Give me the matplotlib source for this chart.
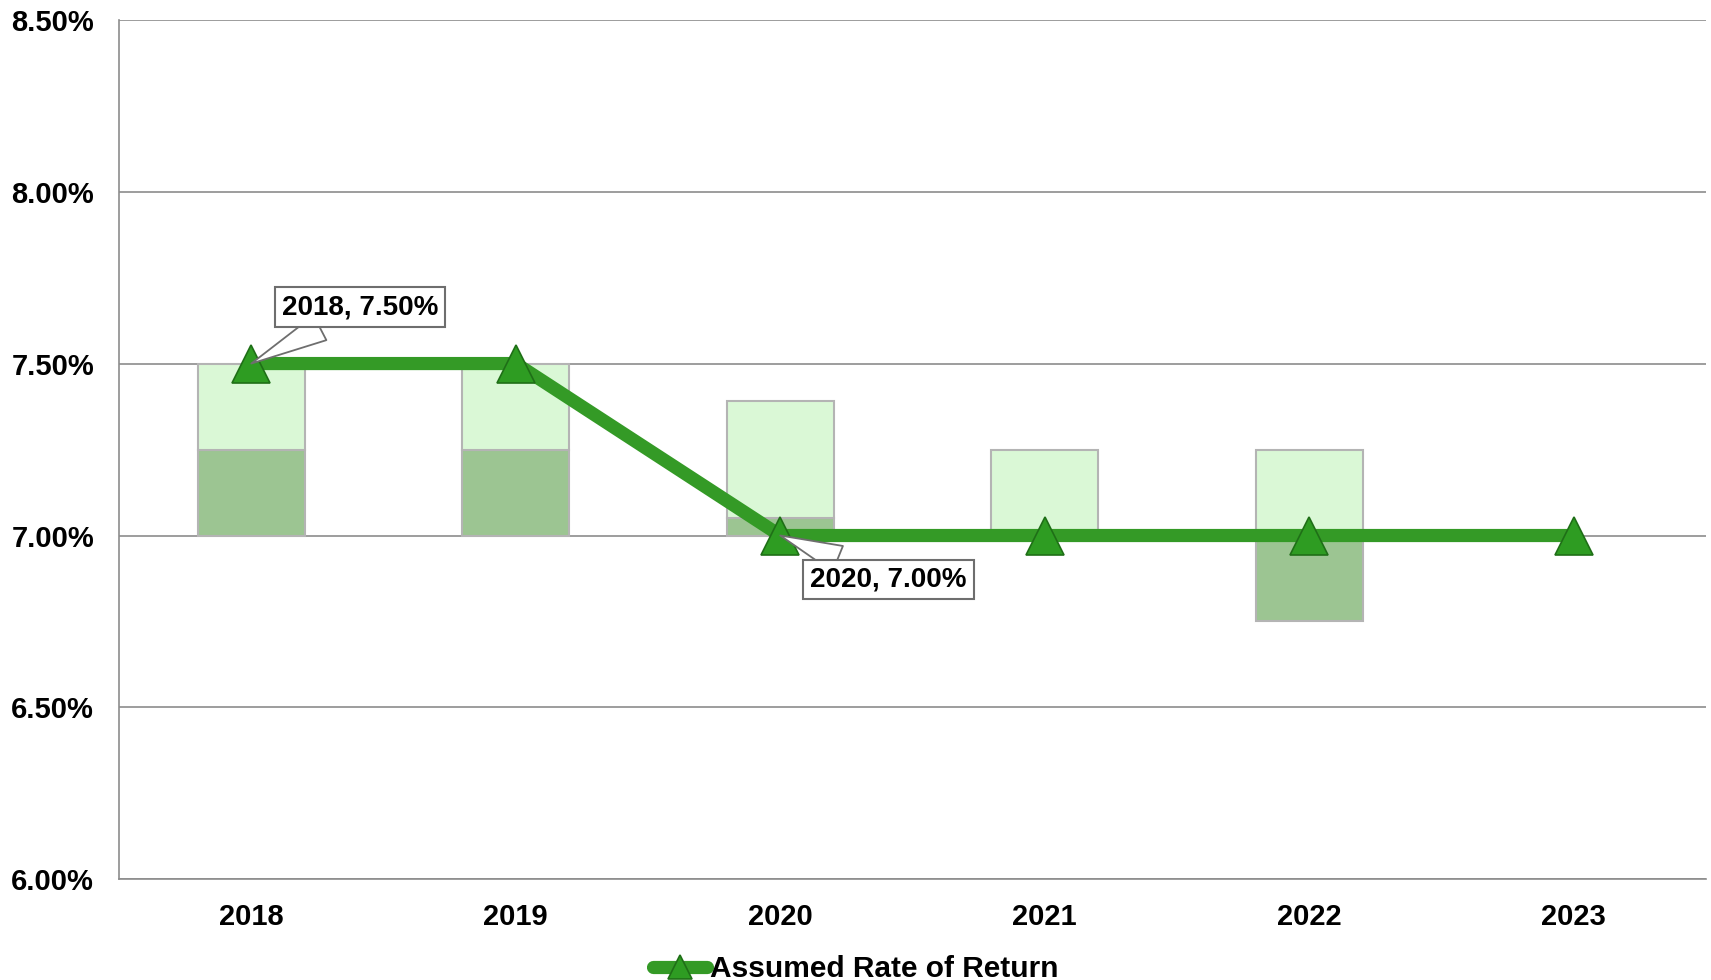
import matplotlib.pyplot as plt
from matplotlib.ticker import FuncFormatter

plt.rcParams["font.family"] = ["Liberation Sans", "DejaVu Sans"]
plt.rcParams["font.weight"] = "bold"

years = ["2018", "2019", "2020", "2021", "2022", "2023"]
assumed_rate = [7.50, 7.50, 7.00, 7.00, 7.00, 7.00]

# range bars: lower band (dark) from low to mid, upper band (light) from mid to high
range_low = [7.00, 7.00, 7.00, None, 6.75, None]
range_mid = [7.25, 7.25, 7.05, 7.00, 7.00, None]
range_high = [7.50, 7.50, 7.39, 7.25, 7.25, None]

line_color = "#349A26"
light_fill = "#DAF8D6"
dark_fill = "#9CC592"
edge_gray = "#B4B4B4"

fig = plt.figure(figsize=(17.11, 9.80), dpi=100)
ax = fig.add_axes([0.0696, 0.1026, 0.9274, 0.8774])

x = list(range(len(years)))
bar_w = 0.405
for i in x:
    lo, mid, hi = range_low[i], range_mid[i], range_high[i]
    if lo is not None:
        ax.bar(i, mid - lo, bottom=lo, width=bar_w, color=dark_fill,
               edgecolor=edge_gray, linewidth=1.5, zorder=2)
    if hi is not None:
        ax.bar(i, hi - mid, bottom=mid, width=bar_w, color=light_fill,
               edgecolor=edge_gray, linewidth=1.5, zorder=2)

ax.plot(x, assumed_rate, color=line_color, linewidth=9.5,
        marker="^", markersize=27, markerfacecolor="#2E9C22",
        markeredgecolor="#1F6F17", markeredgewidth=1.2,
        solid_capstyle="round", label="Assumed Rate of Return", zorder=4)

box = dict(boxstyle="square,pad=0.25", facecolor="white",
           edgecolor="#6E6E6E", linewidth=1.5)
wedge = dict(arrowstyle="wedge,tail_width=1.0,shrink_factor=0.5",
             facecolor="white", edgecolor="#6E6E6E", linewidth=1.3,
             shrinkA=0, shrinkB=0)
ax.annotate(f"{years[0]}, {assumed_rate[0]:.2f}%", xy=(0, assumed_rate[0]),
            xytext=(0.41, 7.664), textcoords="data", fontsize=20,
            fontweight="bold", ha="center", va="center", bbox=box,
            arrowprops=wedge, zorder=6)
ax.annotate(f"{years[2]}, {assumed_rate[2]:.2f}%", xy=(2, assumed_rate[2]),
            xytext=(2.41, 6.872), textcoords="data", fontsize=20,
            fontweight="bold", ha="center", va="center", bbox=box,
            arrowprops=wedge, zorder=6)

ax.set_xlim(-0.5, 5.5)
ax.set_ylim(6.0, 8.5)
ax.set_yticks([6.0, 6.5, 7.0, 7.5, 8.0, 8.5])
ax.yaxis.set_major_formatter(FuncFormatter(lambda v, p: f"{v:.2f}%"))
ax.set_xticks(x)
ax.set_xticklabels(years)
ax.tick_params(axis="both", length=0, labelsize=21)
ax.tick_params(axis="x", pad=17)
ax.tick_params(axis="y", pad=18)
ax.grid(axis="y", color="#8C8C8C", linewidth=1.2, zorder=0)
ax.set_axisbelow(True)
for side in ["top", "right"]:
    ax.spines[side].set_visible(False)
for side in ["left", "bottom"]:
    ax.spines[side].set_color("#8C8C8C")
    ax.spines[side].set_linewidth(1.2)

fig.legend(loc="center", bbox_to_anchor=(0.5, 0.011), frameon=False,
           fontsize=21.5, handlelength=1.8, handletextpad=0.1,
           markerscale=0.62, borderpad=0)

fig.savefig("out.png", dpi=100)
